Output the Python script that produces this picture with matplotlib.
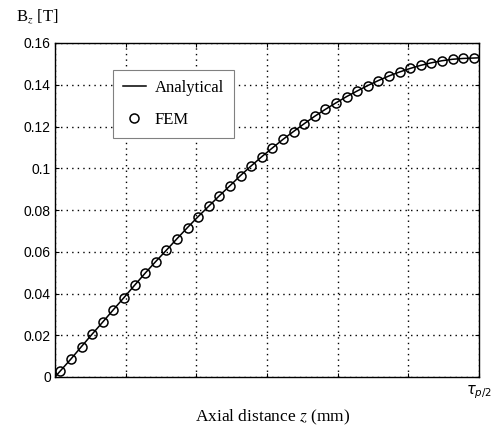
import numpy as np
import matplotlib
matplotlib.use("Agg")
import matplotlib.pyplot as plt

plt.rcParams["mathtext.fontset"] = "stix"

# FEM sample points (axial position in grid units, 0..6 = 0..tau_p/2)
fem_z = np.arange(40) * 0.15 + 0.075
fem_bz = [0.0029, 0.0086, 0.0146, 0.0205, 0.0263, 0.0322, 0.0380, 0.0439,
          0.0497, 0.0553, 0.0607, 0.0662, 0.0716, 0.0768, 0.0818, 0.0868,
          0.0916, 0.0965, 0.1011, 0.1055, 0.1097, 0.1138, 0.1176, 0.1213,
          0.1249, 0.1282, 0.1313, 0.1343, 0.1370, 0.1396, 0.1420, 0.1442,
          0.1461, 0.1478, 0.1493, 0.1505, 0.1515, 0.1522, 0.1526, 0.1528]

# analytical curve: same samples plus both ends of the interval
ana_z = [0.0] + list(fem_z) + [6.0]
ana_bz = [0.0] + fem_bz + [0.1529]

yticks = [0, 0.02, 0.04, 0.06, 0.08, 0.1, 0.12, 0.14, 0.16]
ytick_labels = ["0", "0.02", "0.04", "0.06", "0.08", "0.1", "0.12", "0.14", "0.16"]
xticks = [0, 1, 2, 3, 4, 5, 6]

fig = plt.figure(figsize=(4.94, 4.26), dpi=100)
ax = fig.add_axes([55 / 494, 49 / 426, 424 / 494, 334 / 426])

ax.plot(ana_z, ana_bz, color="black", lw=1.1, label="Analytical")
ax.plot(fem_z, fem_bz, ls="none", marker="o", ms=6.5, mfc="none", mec="black",
        mew=1.1, label="FEM")

ax.set_xlim(0, 6)
ax.set_ylim(0, 0.16)
ax.set_xticks(xticks)
ax.set_xticklabels([])
ax.set_yticks(yticks)
ax.set_yticklabels(ytick_labels, fontsize=10, family="Liberation Sans")
ax.tick_params(direction="in", top=True, right=True, length=3, width=0.8,
               pad=3)
ax.grid(True, color="black", ls=(0, (1, 3)), lw=1.0)
for s in ax.spines.values():
    s.set_linewidth(1.0)

# end-of-axis label tau_p/2
tau = fig.text(492 / 494, 1 - 392 / 426, r"$\tau_{p/2}$", fontsize=10.5,
               ha="right", va="center")
tau.set_math_fontfamily("dejavusans")

fig.text(273 / 494, 1 - 421 / 426, "Axial distance $z$ (mm)",
         family="Liberation Serif", fontsize=12.5, ha="center", va="baseline")
fig.text(16 / 494, 1 - 17 / 426, "B$_z$ [T]", family="Liberation Serif",
         fontsize=12, va="center", ha="left")

leg = ax.legend(loc="upper left", bbox_to_anchor=(0.137, 0.919),
                borderaxespad=0,
                prop={"family": "Liberation Serif", "size": 12},
                fancybox=False, framealpha=1, edgecolor="gray",
                handlelength=1.35, handletextpad=0.55, borderpad=0.6,
                labelspacing=0.95)
leg.get_frame().set_linewidth(0.8)

fig.savefig("out.png", dpi=100)
